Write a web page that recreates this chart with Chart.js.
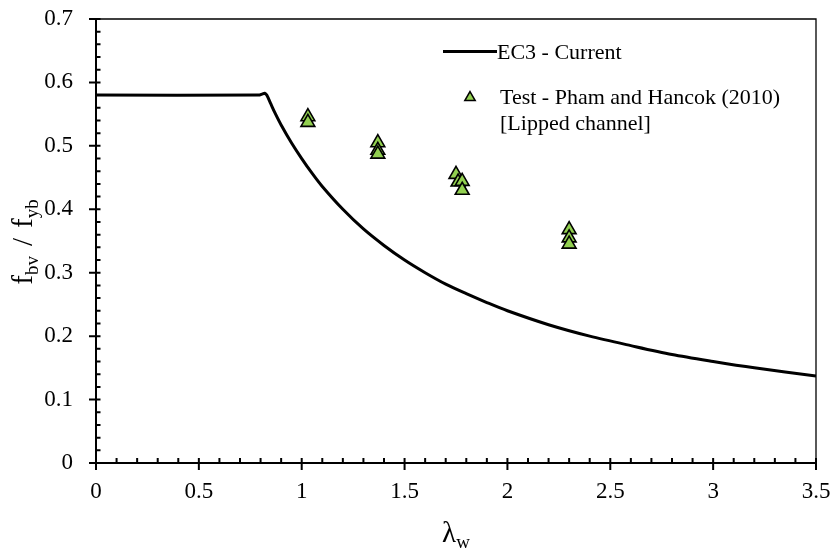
<!DOCTYPE html>
<html>
<head>
<meta charset="utf-8">
<script src="https://cdn.jsdelivr.net/npm/chart.js@4.4.0/dist/chart.umd.min.js"></script>
<style>
  html, body { margin: 0; padding: 0; background: #ffffff; }
  #wrap { width: 834px; height: 550px; }
</style>
</head>
<body>
<div id="wrap"><canvas id="c" width="834" height="550"></canvas></div>
<script>
// EC3 design curve: shear buckling strength ratio against web slenderness
const curveLambda = [0, 0.79, 0.81, 0.82, 0.83, 0.85, 0.87, 0.90, 0.95, 1.00, 1.05, 1.10, 1.20, 1.30, 1.40, 1.50, 1.60, 1.70, 1.80, 1.90, 2.00, 2.20, 2.40, 2.60, 2.80, 3.00, 3.20, 3.50];
const curveRatio  = [0.580, 0.580, 0.582, 0.583, 0.580, 0.566, 0.552, 0.533, 0.505, 0.480, 0.457, 0.436, 0.400, 0.369, 0.343, 0.320, 0.300, 0.282, 0.267, 0.253, 0.240, 0.218, 0.200, 0.185, 0.171, 0.160, 0.150, 0.137];

// Test results, Pham and Hancock (2010), lipped channel sections
const testLambda = [1.03, 1.03, 1.37, 1.37, 1.37, 1.75, 1.76, 1.78, 1.78, 2.30, 2.30, 2.30];
const testRatio  = [0.546, 0.537, 0.505, 0.493, 0.487, 0.455, 0.443, 0.444, 0.430, 0.368, 0.355, 0.345];

const curveLabel = 'EC3 - Current';
const testLabel = ['Test - Pham and Hancok (2010)', '[Lipped channel]'];

const SERIF = '"Liberation Serif", "Times New Roman", serif';
const GREEN = '#92d050';

const toPoints = (xs, ys) => xs.map((x, i) => ({ x: x, y: ys[i] }));

// Frame with inside minor ticks and crossing major ticks
const framePlugin = {
  id: 'frame',
  afterDatasetsDraw(chart) {
    const ctx = chart.ctx;
    const xs = chart.scales.x, ys = chart.scales.y;
    const L = chart.chartArea.left, R = chart.chartArea.right;
    const T = chart.chartArea.top, B = chart.chartArea.bottom;
    ctx.save();
    ctx.strokeStyle = '#000';
    ctx.lineCap = 'butt';
    // top and right border
    ctx.lineWidth = 1.3;
    ctx.beginPath();
    ctx.moveTo(L, T); ctx.lineTo(R, T); ctx.lineTo(R, B);
    ctx.stroke();
    // axis lines
    ctx.lineWidth = 2;
    ctx.beginPath();
    ctx.moveTo(L, T - 0.6); ctx.lineTo(L, B);
    ctx.lineTo(R + 1, B);
    ctx.stroke();
    // y ticks
    ctx.beginPath();
    for (let i = 0; i <= 35; i++) {
      const py = ys.getPixelForValue(i / 50);
      const major = i % 5 === 0;
      ctx.moveTo(major ? L - 7 : L, py);
      ctx.lineTo(L + 4.5, py);
    }
    // x ticks
    for (let i = 0; i <= 35; i++) {
      const px = xs.getPixelForValue(i / 10);
      const major = i % 5 === 0;
      ctx.moveTo(px, major ? B + 7 : B);
      ctx.lineTo(px, B - 5);
    }
    ctx.stroke();
    ctx.restore();
  }
};

// Axis titles with subscripts, and the legend box entries
const textPlugin = {
  id: 'texts',
  afterDraw(chart) {
    const ctx = chart.ctx;
    const legendFont = '22px ' + SERIF;
    const title = '29px ' + SERIF;
    const sub = '19px ' + SERIF;
    ctx.save();
    ctx.fillStyle = '#000';
    ctx.textBaseline = 'alphabetic';
    ctx.textAlign = 'left';

    // y title: f_bv / f_yb  (text, font, baseline shift, gap after)
    const parts = [['f', title, 0, 0], ['bv', sub, 6, 10], ['/', title, 0, 10], ['f', title, 0, 0], ['yb', sub, 6, 0]];
    let total = 0;
    parts.forEach(p => { ctx.font = p[1]; total += ctx.measureText(p[0]).width + p[3]; });
    ctx.translate(32, 242);
    ctx.rotate(-Math.PI / 2);
    let cx = -total / 2;
    parts.forEach(p => {
      ctx.font = p[1];
      ctx.fillText(p[0], cx, p[2]);
      cx += ctx.measureText(p[0]).width + p[3];
    });
    ctx.setTransform(1, 0, 0, 1, 0, 0);

    // x title: lambda_w
    ctx.font = title;
    const wl = ctx.measureText('\u03bb').width;
    ctx.font = sub;
    const ww = ctx.measureText('w').width;
    const mid = (chart.chartArea.left + chart.chartArea.right) / 2;
    const sx = mid - (wl + ww) / 2;
    ctx.font = title;
    ctx.fillText('\u03bb', sx, 542);
    ctx.font = sub;
    ctx.fillText('w', sx + wl, 548);

    // legend: line sample
    ctx.strokeStyle = '#000';
    ctx.lineWidth = 3;
    ctx.beginPath();
    ctx.moveTo(443, 51.5); ctx.lineTo(497, 51.5);
    ctx.stroke();
    ctx.font = legendFont;
    ctx.fillText(curveLabel, 497, 58.5);

    // legend: triangle marker
    ctx.fillStyle = GREEN;
    ctx.strokeStyle = '#000';
    ctx.lineWidth = 1.5;
    Chart.helpers.drawPoint(ctx, {
      pointStyle: 'triangle', radius: 6, rotation: 0, borderWidth: 1.5
    }, 470, 97.5);
    ctx.fillStyle = '#000';
    ctx.font = legendFont;
    ctx.fillText(testLabel[0], 500, 104);
    ctx.fillText(testLabel[1], 500, 129.5);
    ctx.restore();
  }
};

const fmt = v => String(Math.round(v * 10) / 10);

new Chart(document.getElementById('c'), {
  type: 'scatter',
  data: {
    datasets: [
      {
        label: curveLabel,
        data: toPoints(curveLambda, curveRatio),
        showLine: true,
        borderColor: '#000',
        borderWidth: 3,
        pointRadius: 0,
        tension: 0.3,
        fill: false,
        order: 2
      },
      {
        label: testLabel.join(' '),
        data: toPoints(testLambda, testRatio),
        pointStyle: 'triangle',
        pointRadius: 8,
        backgroundColor: GREEN,
        borderColor: '#000',
        borderWidth: 1.6,
        order: 1
      }
    ]
  },
  options: {
    responsive: false,
    animation: false,
    devicePixelRatio: 1,
    layout: { padding: { top: 19, right: 18, left: 0, bottom: 0 } },
    plugins: {
      legend: { display: false },
      tooltip: { enabled: false }
    },
    scales: {
      x: {
        type: 'linear',
        min: 0, max: 3.5,
        grid: { display: false },
        border: { display: false },
        ticks: {
          stepSize: 0.5,
          maxRotation: 0,
          color: '#000',
          padding: 7,
          font: { family: SERIF, size: 23 },
          callback: fmt
        },
        afterFit(s) {
          s.height = 87;
          s.paddingLeft = 0; s.paddingRight = 0;
        }
      },
      y: {
        type: 'linear',
        min: 0, max: 0.7,
        grid: { display: false },
        border: { display: false },
        ticks: {
          stepSize: 0.1,
          color: '#000',
          padding: 15,
          font: { family: SERIF, size: 23 },
          callback: fmt
        },
        afterFit(s) {
          s.width = 96;
          s.paddingTop = 0; s.paddingBottom = 0;
        }
      }
    }
  },
  plugins: [framePlugin, textPlugin]
});
</script>
</body>
</html>
